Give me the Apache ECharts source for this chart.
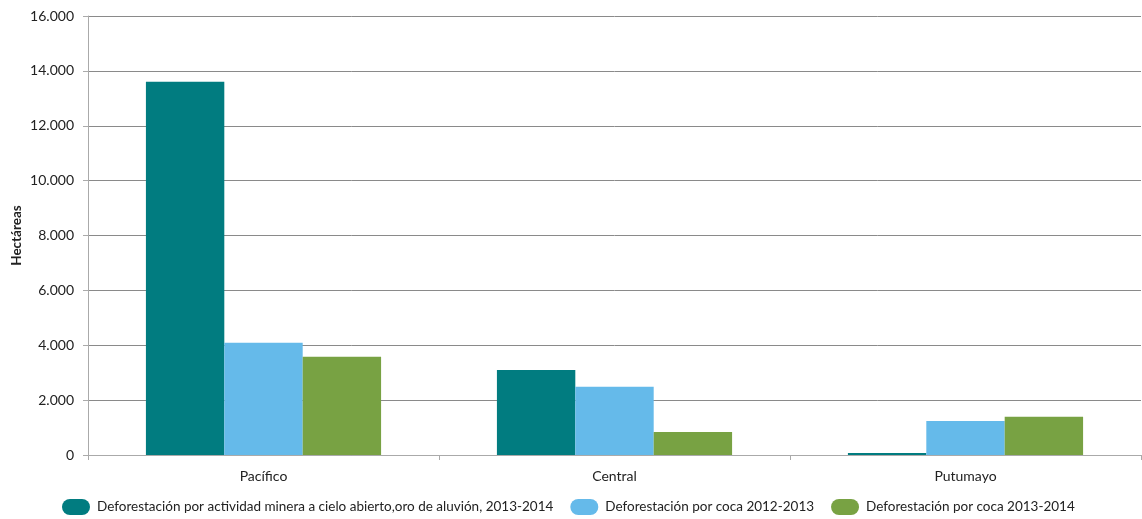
<!DOCTYPE html>
<html><head><meta charset="utf-8">
<script src="https://cdn.jsdelivr.net/npm/echarts@6/dist/echarts.min.js"></script>
<style>html,body{margin:0;padding:0;background:#fff}#c{width:1142px;height:519px}</style>
</head><body><div id="c"></div>
<script>
const categories = ['Pacífico', 'Central', 'Putumayo'];
const seriesNames = [
  'Deforestación por actividad minera a cielo abierto,oro de aluvión, 2013-2014',
  'Deforestación por coca 2012-2013',
  'Deforestación por coca 2013-2014'
];
const mineria = [13600, 3100, 70];
const coca1213 = [4090, 2490, 1240];
const coca1314 = [3580, 840, 1395];
const colors = ['#017C80', '#65BAEA', '#78A243'];
const yTicks = { min: 0, max: 16000, interval: 2000 };

const font = 'Lato, "Open Sans", sans-serif';
const chart = echarts.init(document.getElementById('c'));
const mk = (name, data, i) => ({
  name, type: 'bar', data, barGap: '0%', barCategoryGap: '33%',
  itemStyle: { color: colors[i] }
});
chart.setOption({
  animation: false,
  textStyle: { fontFamily: font },
  grid: { left: 88, right: 1, top: 16, bottom: 64, containLabel: false, outerBoundsMode: 'none' },
  legend: {
    left: 57, top: 494, itemWidth: 28, itemHeight: 17, itemGap: 17,
    icon: 'path://M8,0 H20 A8,8 0 0 1 20,16 H8 A8,8 0 0 1 8,0 Z',
    textStyle: { fontFamily: font, fontSize: 13.5, color: '#222', padding: [0, 0, 0, 2] },
    data: seriesNames
  },
  xAxis: {
    type: 'category', data: categories,
    axisLine: { lineStyle: { color: '#aaa', width: 1 } },
    axisTick: { show: true, length: 5, lineStyle: { color: '#aaa' } },
    axisLabel: { fontFamily: font, fontSize: 14, color: '#222', margin: 14 }
  },
  yAxis: {
    type: 'value', min: yTicks.min, max: yTicks.max, interval: yTicks.interval,
    name: 'Hectáreas', nameLocation: 'middle', nameGap: 64, nameMoveOverlap: false,
    nameTextStyle: { fontFamily: font, fontSize: 13.5, fontWeight: 'bold', color: '#222' },
    axisLine: { show: true, lineStyle: { color: '#aaa' } },
    axisTick: { show: true, length: 5, lineStyle: { color: '#aaa' } },
    axisLabel: {
      fontFamily: font, fontSize: 14, color: '#222', margin: 14,
      formatter: v => v.toLocaleString('de-DE')
    },
    splitLine: { lineStyle: { color: '#8a8a8a', width: 1 } }
  },
  series: [mk(seriesNames[0], mineria, 0), mk(seriesNames[1], coca1213, 1), mk(seriesNames[2], coca1314, 2)]
});
</script></body></html>
